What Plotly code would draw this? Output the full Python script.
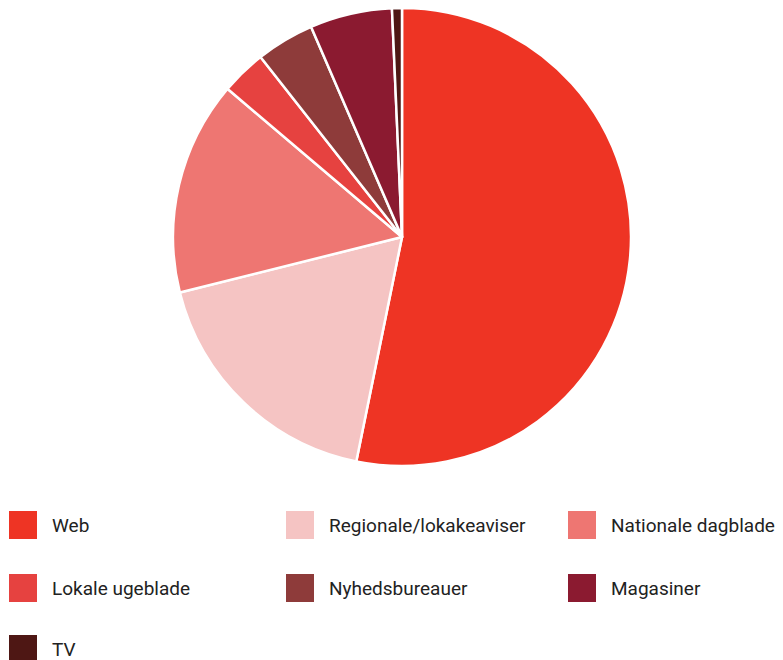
import plotly.graph_objects as go

labels = ["Web", "Regionale/lokakeaviser", "Nationale dagblade", "Lokale ugeblade",
          "Nyhedsbureauer", "Magasiner", "TV"]
values = [53.2, 17.9, 15.1, 3.2, 4.1, 5.8, 0.7]
colors = ["#EE3424", "#F5C4C3", "#EE7672", "#E64240", "#8E3B3A", "#8B1A30", "#4E1714"]

W, H = 783, 660
OFF = 8  # page body margin offset


def px(x):
    return (x - OFF) / W


def py(y):
    return 1 - (y - OFF) / H


fig = go.Figure(go.Pie(
    labels=labels, values=values, sort=False, direction="clockwise", rotation=0,
    marker=dict(colors=colors, line=dict(color="white", width=2.5)),
    textinfo="none", hoverinfo="label+percent", showlegend=False,
    domain=dict(x=[px(173), px(631)], y=[py(466), py(8)]),
))

# custom legend: 3 columns
col_x = [9, 286, 568]
row_y = [525, 588, 649]
box = 28
shapes, annos = [], []
for i, (lab, c) in enumerate(zip(labels, colors)):
    cx = col_x[i % 3]
    cy = row_y[i // 3]
    shapes.append(dict(type="rect", xref="paper", yref="paper",
                       x0=px(cx), x1=px(cx + box),
                       y0=py(cy + box / 2), y1=py(cy - box / 2),
                       fillcolor=c, line=dict(width=0)))
    annos.append(dict(xref="paper", yref="paper", x=px(cx + box + 13), y=py(cy),
                      text=lab, showarrow=False, xanchor="left", yanchor="middle",
                      font=dict(size=19, color="#222222", family="Roboto")))

fig.update_layout(width=W, height=H, margin=dict(l=0, r=0, t=0, b=0),
                  paper_bgcolor="white", plot_bgcolor="white",
                  shapes=shapes, annotations=annos)
fig.write_html("out.html")
